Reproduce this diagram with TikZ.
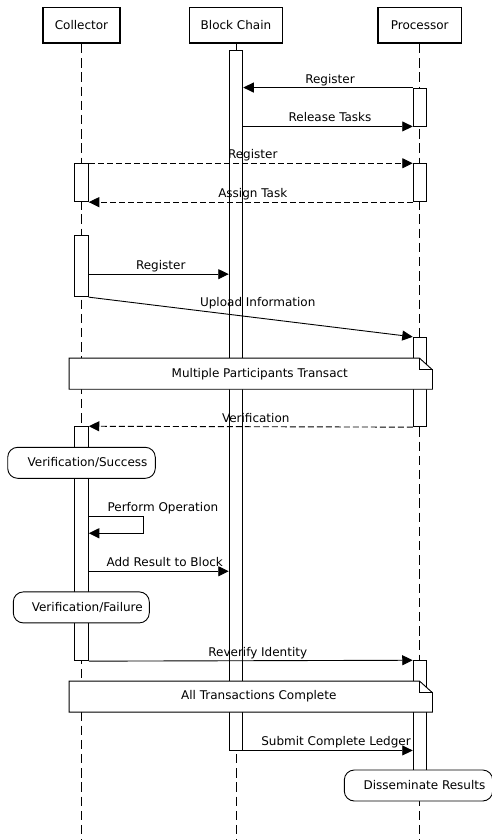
\documentclass[tikz,border=0pt]{standalone}
\usepackage{fontspec}
\setmainfont{DejaVu Sans}
\usetikzlibrary{arrows.meta}

\begin{document}
\begin{tikzpicture}[x=1pt,y=-1pt,font=\fontsize{12}{14}\selectfont,
    head/.style={draw,line width=1.6pt,minimum height=35.7pt,inner sep=0pt},
    life/.style={line width=0.9pt,dash pattern=on 9.5pt off 4.7pt},
    act/.style={draw,fill=white,line width=0.9pt,minimum width=13.6pt,inner sep=0pt},
    msg/.style={line width=0.9pt,-{Triangle[length=10.5pt,width=10pt]}},
    reply/.style={msg,dash pattern=on 6pt off 3pt},
    lbl/.style={anchor=base,yshift=4.5pt,inner sep=0pt},
    notebox/.style={minimum width=363pt,minimum height=30.7pt,inner sep=0pt},
    notefold/.style={line width=0.9pt,fill=white},
    state/.style={draw,fill=white,line width=0.9pt,rounded corners=10pt,
      minimum height=31pt,inner sep=0pt,execute at begin node=\hspace*{12pt}}]
  \useasboundingbox (0,0) rectangle (492,840);
  \coordinate (bot) at (0,840);

  \node[head,minimum width=77pt] (col) at (81.5,25.3) {Collector};
  \node[head,minimum width=92.7pt] (blk) at (236,25.3) {Block Chain};
  \node[head,minimum width=83.7pt] (pro) at (419.7,25.3) {Processor};

  \draw[life] (col.south) -- (col |- bot);
  \draw[life] (blk.south) -- (blk |- bot);
  \draw[life] (pro.south) -- (pro |- bot);

  \node[act,minimum height=700pt] (blk1) at (236,400) {};
  \node[act,minimum height=38pt] (pro1) at (420,107) {};
  \node[act,minimum height=38pt] (col1) at (81.5,182.7) {};
  \node[act,minimum height=38pt] (pro2) at (420,182.7) {};
  \node[act,minimum height=61pt] (col2) at (81.5,266.2) {};
  \node[act,minimum height=89.4pt] (pro3) at (420,382) {};
  \node[act,minimum height=234pt] (col3) at (81.5,543.7) {};
  \node[act,minimum height=109.3pt] (pro4) at (420,715.35) {};

  \draw[msg] (pro1.north west) -- node[lbl,xshift=2pt] {Register} (pro1.north west -| blk1.east);
  \draw[msg] (pro1.south west -| blk1.east) -- node[lbl,xshift=2pt] {Release Tasks} (pro1.south west);
  \draw[reply] (col1.north east) -- node[lbl,xshift=2pt] {Register} (pro2.north west);
  \draw[reply] (pro2.south west) -- node[lbl,xshift=2pt] {Assign Task} (col1.south east);
  \draw[msg] ([yshift=23pt]col2.south east) coordinate (reg) -- node[lbl,xshift=2pt] {Register} (reg -| blk1.west);
  \draw[msg] (col2.south east) -- node[lbl,xshift=7pt,yshift=6.5pt] {Upload Information} (pro3.north west);

  \node[notebox] (mpt) at (250.8,373.7) {};
  \filldraw[notefold] (mpt.south west) -- (mpt.north west) -- ([xshift=-13pt]mpt.north east)
    -- ([yshift=-11.7pt]mpt.north east) -- (mpt.south east) -- cycle;
  \draw[line width=0.9pt] ([xshift=-13pt]mpt.north east) |- ([yshift=-11.7pt]mpt.north east);
  \node[xshift=9pt] (mptt) at (mpt) {Multiple Participants Transact};

  \draw[reply] (pro3.south west) -- node[lbl,xshift=5pt] {Verification} (col3.north east);
  \node[state,minimum width=147.6pt] (vs) at (81.5,462.8) {Verification/Success};
  \draw[msg] ([yshift=-90pt]col3.north east) coordinate (op)
    node[anchor=base west,xshift=18.4pt,yshift=5pt,inner sep=0pt] {Perform Operation}
    -- ++(54.4,0) -- ++(0,17) -- ++(-54.4,0);
  \draw[msg] ([yshift=-145pt]col3.north east) coordinate (res) -- node[lbl,xshift=6pt] {Add Result to Block} (res -| blk1.west);
  \node[state,minimum width=136pt] (vf) at (81.3,607.4) {Verification/Failure};
  \draw[msg] (col3.south east) -- node[lbl,xshift=7pt] {Reverify Identity} (pro4.north west);

  \node[notebox] (atc) at (250.8,696.6) {};
  \filldraw[notefold] (atc.south west) -- (atc.north west) -- ([xshift=-13pt]atc.north east)
    -- ([yshift=-11.7pt]atc.north east) -- (atc.south east) -- cycle;
  \draw[line width=0.9pt] ([xshift=-13pt]atc.north east) |- ([yshift=-11.7pt]atc.north east);
  \node[xshift=8pt] (atct) at (atc) {All Transactions Complete};

  \draw[msg] (blk1.south east) -- node[lbl,xshift=8pt] {Submit Complete Ledger} (pro4.west |- blk1.south);
  \node[state,minimum width=148.4pt] (dr) at (418.5,785.5) {Disseminate Results};
\end{tikzpicture}
\end{document}
